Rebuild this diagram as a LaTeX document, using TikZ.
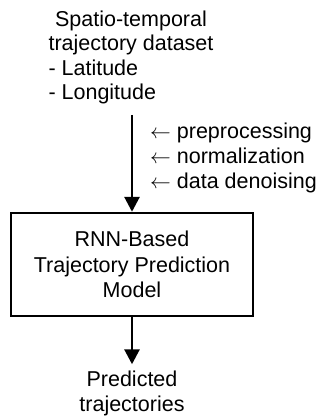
\documentclass[tikz,border=0pt]{standalone}
\usepackage{fontspec}
\setmainfont{Liberation Sans}
\usetikzlibrary{arrows.meta}
\begin{document}
\begin{tikzpicture}[x=1pt,y=1pt,
  txt/.style={font=\fontsize{21.5}{24.5}\selectfont, inner sep=0pt},
  modelbox/.style={draw, line width=2.4pt, minimum width=242pt, minimum height=103pt, inner sep=0pt, align=center, font=\fontsize{21.5}{25.5}\selectfont},
  arr/.style={line width=2.8pt, -{Triangle[width=15pt,length=15pt]}}]
\useasboundingbox (0,0) rectangle (320,-419);
\node[txt] (src) at (131,-58) {\begin{tabular}{@{}l@{}}\multicolumn{1}{@{}c@{}}{Spatio-temporal}\\ trajectory dataset\\ - Latitude\\ - Longitude\end{tabular}};
\node[modelbox] (model) at (132,-264.5) {RNN-Based\\Trajectory Prediction\\Model};
\node[txt, align=left, anchor=west, font=\fontsize{21.5}{25}\selectfont] (steps) at (150,-158) {$\leftarrow$ preprocessing\\$\leftarrow$ normalization\\$\leftarrow$ data denoising};
\node[txt, align=center, font=\fontsize{21.5}{25}\selectfont] (out) at (132,-393) {Predicted\\trajectories};
\coordinate (a1) at (132,-115);
\draw[arr] (a1) -- (a1 |- model.north);
\draw[arr] (a1 |- model.south) -- ([yshift=6pt]a1 |- out.north);
\end{tikzpicture}
\end{document}
